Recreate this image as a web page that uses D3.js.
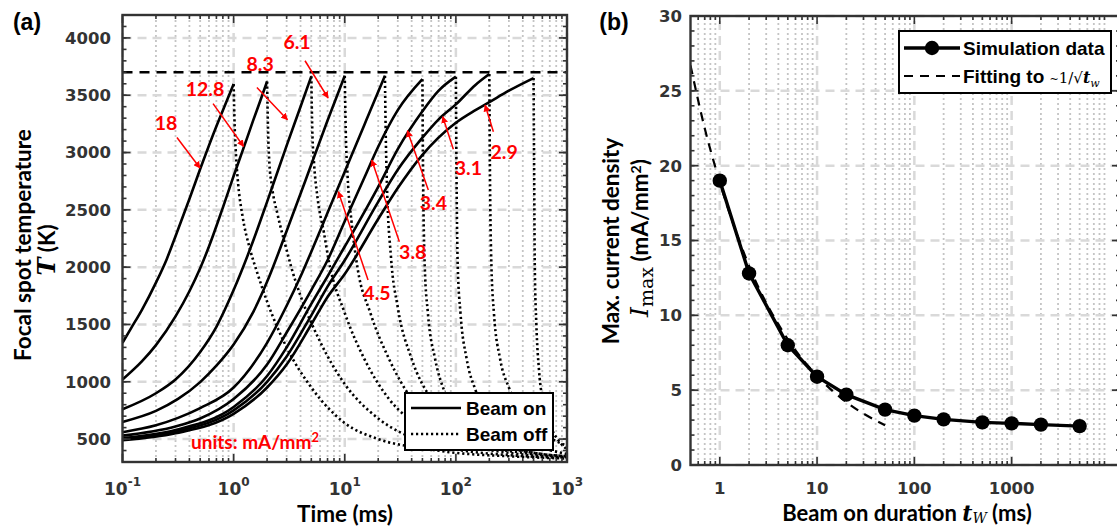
<!DOCTYPE html>
<html>
<head>
<meta charset="utf-8">
<script src="https://cdn.jsdelivr.net/npm/d3@7"></script>
<style>
  body { margin: 0; background: #fff; }
  text { font-family: "Liberation Sans", Arial, sans-serif; font-weight: bold; }
</style>
</head>
<body>
<div id="chart"></div>
<script>
// ---------- panel (a): temperature vs time, one curve per current density ----------
var densityLabels = ["18", "12.8", "8.3", "6.1", "4.5", "3.8", "3.4", "3.1", "2.9"];

// beam on: [time ms, T K]
var heat18  = [[0.1,1340],[0.12,1470],[0.15,1630],[0.2,1865],[0.25,2070],[0.3,2270],[0.4,2595],[0.5,2856],[0.7,3230],[0.85,3430],[1,3597]];
var heat128 = [[0.1,1020],[0.15,1180],[0.2,1320],[0.3,1570],[0.4,1790],[0.5,1990],[0.6,2180],[0.8,2520],[1,2795],[1.25,3060],[1.5,3280],[1.75,3460],[2,3620]];
var heat83  = [[0.1,760],[0.2,900],[0.3,1020],[0.5,1260],[0.7,1480],[1,1800],[1.5,2230],[2,2570],[3,3060],[4,3400],[5,3665]];
var heat61  = [[0.1,650],[0.2,746],[0.316,850],[0.5,997],[0.7,1140],[1,1325],[1.5,1608],[2,1872],[3,2315],[5,2895],[7,3280],[10,3670]];
var heat45  = [[0.1,560],[0.2,620],[0.316,685],[0.5,770],[1,950],[2,1340],[3,1663],[4,1918],[5,2135],[7,2474],[10,2833],[15,3241],[20,3530],[23,3670]];
var heat38  = [[0.1,530],[0.3,610],[0.5,680],[1,850],[2,1150],[3,1430],[5,1800],[7,2060],[10,2400],[15,2780],[20,3050],[30,3370],[50,3640]];
var heat34  = [[0.1,510],[0.3,580],[1,780],[2,1050],[3,1300],[5,1680],[7,1920],[10,2180],[20,2700],[30,3030],[50,3360],[70,3540],[100,3662]];
var heat31  = [[0.1,500],[0.3,565],[1,750],[2,1000],[3,1220],[5,1580],[7,1830],[10,2060],[20,2570],[30,2850],[50,3130],[70,3290],[100,3420],[150,3590],[200,3685]];
var heat29  = [[0.1,490],[0.3,550],[1,720],[2,950],[3,1150],[5,1500],[7,1740],[10,1940],[20,2420],[30,2690],[50,2980],[100,3260],[150,3370],[200,3440],[300,3540],[500,3650]];

// beam off (cooling): [time ms, T K]
var cool18  = [[1,3597],[1.02,3250],[1.05,2980],[1.1,2720],[1.2,2450],[1.4,2160],[1.62,1960],[2,1700],[3,1300],[5,950],[10,640],[20,500],[50,420],[100,380],[300,350],[1000,330]];
var cool128 = [[2,3620],[2.04,3200],[2.1,2900],[2.2,2720],[2.5,2450],[3,2150],[3.3,2000],[4,1750],[6,1350],[10,980],[20,680],[50,480],[100,410],[300,360],[1000,335]];
var cool83  = [[5,3665],[5.1,3200],[5.3,2900],[5.7,2600],[6.5,2300],[7.2,2050],[10,1600],[15,1200],[25,850],[50,600],[100,470],[300,380],[1000,340]];
var cool61  = [[10,3670],[10.2,3200],[10.6,2800],[11.5,2400],[13,2000],[17,1600],[25,1200],[40,850],[70,620],[150,460],[400,380],[1000,345]];
var cool45  = [[23,3670],[23.3,3250],[24,2700],[26,2100],[30,1650],[40,1200],[60,850],[100,620],[200,470],[500,380],[1000,350]];
var cool38  = [[50,3640],[50.5,3000],[52.5,2000],[56,1600],[65,1200],[80,900],[120,650],[200,500],[400,400],[1000,350]];
var cool34  = [[100,3662],[101,3000],[104,2000],[110,1600],[125,1200],[150,930],[200,720],[300,560],[500,450],[1000,370]];
var cool31  = [[200,3685],[202,3000],[209,2000],[220,1600],[250,1200],[300,950],[400,740],[600,560],[1000,440]];
var cool29  = [[500,3650],[505,3000],[513,2000],[530,1500],[560,1100],[620,800],[720,600],[850,480],[1000,410]];

var heatCurves = [heat18, heat128, heat83, heat61, heat45, heat38, heat34, heat31, heat29];
var coolCurves = [cool18, cool128, cool83, cool61, cool45, cool38, cool34, cool31, cool29];

var limitTemp = 3700;

// red labels: text position and arrow (tail -> head), all in [time, T]
var labelText  = [[0.246,3257],[0.553,3554],[1.73,3772],[3.72,3964],[19.5,1774],[40.9,2134],[62.8,2557],[129.6,2862],[271.6,3007]];
var arrowTail  = [[0.309,3131],[0.653,3427],[1.62,3567],[4.39,3801],[16.2,1887],[31.0,2221],[56.5,2673],[94.9,3028],[217.6,3181]];
var arrowHead  = [[0.498,2865],[1.23,3053],[3.05,3287],[7.08,3476],[8.76,2658],[17.5,2934],[36.6,3190],[76.2,3312],[183.2,3414]];

var xTicksA = [0.1, 1, 10, 100, 1000];
var xExpA   = ["-1", "0", "1", "2", "3"];
var yTicksA = [500, 1000, 1500, 2000, 2500, 3000, 3500, 4000];

// ---------- panel (b): max current density vs beam-on duration ----------
var durations = [1, 2, 5, 10, 20, 50, 100, 200, 500, 1000, 2000, 5000];
var maxDensity = [19.0, 12.8, 8.0, 5.9, 4.7, 3.7, 3.3, 3.05, 2.85, 2.78, 2.7, 2.6];
var fitDurations = [0.5, 0.7, 1, 2, 5, 10, 20, 50];
var fitDensity = [26.7, 22.5, 18.9, 13.3, 8.4, 5.95, 4.2, 2.65];

var xTicksB = [1, 10, 100, 1000];
var yTicksB = [0, 5, 10, 15, 20, 25, 30];

// ---------- setup ----------
var svg = d3.select("#chart")
  .append("svg")
    .attr("width", 1117)
    .attr("height", 529);

var xA = d3.scaleLog().domain([0.1, 1000]).range([122.5, 567]);
var yA = d3.scaleLinear().domain([300, 4200]).range([462, 15]);
var xB = d3.scaleLog().domain([0.5, 13000]).range([690.5, 1120]);
var yB = d3.scaleLinear().domain([0, 30]).range([465, 16]);

var axisColor = "#333";
var titleFont = "Lato, sans-serif";

// minor positions of a log axis (2..9 in each decade)
function logMinors(lo, hi) {
  var v = [];
  for (var e = -2; e < 5; e++) {
    for (var m = 2; m < 10; m++) {
      var t = m * Math.pow(10, e);
      if (t > lo * 1.001 && t < hi * 0.999) v.push(t);
    }
  }
  return v;
}

function drawGrid(g, x, y, xMajor, yMajor) {
  var x0 = x.range()[0], x1 = x.range()[1], y0 = y.range()[0], y1 = y.range()[1];
  g.selectAll(".gminor").data(logMinors(x.domain()[0], x.domain()[1])).enter().append("line")
    .attr("x1", function(d) { return x(d); }).attr("x2", function(d) { return x(d); })
    .attr("y1", y0).attr("y2", y1)
    .attr("stroke", "#c4c4c4").attr("stroke-width", 1.8).attr("stroke-dasharray", "2,3");
  g.selectAll(".gxmaj").data(xMajor).enter().append("line")
    .attr("x1", function(d) { return x(d); }).attr("x2", function(d) { return x(d); })
    .attr("y1", y0).attr("y2", y1)
    .attr("stroke", "#d9d9d9").attr("stroke-width", 2.5).attr("stroke-dasharray", "9,6");
  g.selectAll(".gymaj").data(yMajor).enter().append("line")
    .attr("x1", x0).attr("x2", x1)
    .attr("y1", function(d) { return y(d); }).attr("y2", function(d) { return y(d); })
    .attr("stroke", "#d9d9d9").attr("stroke-width", 2.5).attr("stroke-dasharray", "9,6");
}

function drawFrame(g, x, y, xMajor, yMajor, yMinorStep) {
  var x0 = x.range()[0], x1 = x.range()[1], y0 = y.range()[0], y1 = y.range()[1];
  var xMinor = logMinors(x.domain()[0], x.domain()[1]);
  var yMinor = d3.range(y.domain()[0], y.domain()[1] + 0.001, yMinorStep);
  var ticks = g.append("g").attr("stroke", axisColor).attr("stroke-width", 1.6);
  function vt(vals, len) {
    vals.forEach(function(v) {
      ticks.append("line").attr("x1", x(v)).attr("x2", x(v)).attr("y1", y0).attr("y2", y0 - len);
      ticks.append("line").attr("x1", x(v)).attr("x2", x(v)).attr("y1", y1).attr("y2", y1 + len);
    });
  }
  function ht(vals, len) {
    vals.forEach(function(v) {
      ticks.append("line").attr("y1", y(v)).attr("y2", y(v)).attr("x1", x0).attr("x2", x0 + len);
      ticks.append("line").attr("y1", y(v)).attr("y2", y(v)).attr("x1", x1).attr("x2", x1 - len);
    });
  }
  vt(xMajor, 8); vt(xMinor, 4);
  ht(yMajor, 8); ht(yMinor, 4);
  g.append("rect")
    .attr("x", x0).attr("y", y1)
    .attr("width", x1 - x0).attr("height", y0 - y1)
    .attr("fill", "none").attr("stroke", axisColor).attr("stroke-width", 2.4);
}

// ================= panel (a) =================
var gA = svg.append("g");
svg.append("clipPath").attr("id", "clipA").append("rect")
  .attr("x", 122.5).attr("y", 15).attr("width", 567 - 122.5).attr("height", 462 - 15);

drawGrid(gA, xA, yA, xTicksA, yTicksA);

var lineA = d3.line()
  .x(function(d) { return xA(d[0]); })
  .y(function(d) { return yA(d[1]); })
  .curve(d3.curveMonotoneX);

var curvesA = gA.append("g").attr("clip-path", "url(#clipA)");
curvesA.selectAll(".cool").data(coolCurves).enter().append("path")
  .attr("d", lineA)
  .attr("fill", "none").attr("stroke", "#000").attr("stroke-width", 2.6)
  .attr("stroke-dasharray", "2.2,2.8");
curvesA.selectAll(".heat").data(heatCurves).enter().append("path")
  .attr("d", lineA)
  .attr("fill", "none").attr("stroke", "#000").attr("stroke-width", 2.6);

// temperature limit
gA.append("line")
  .attr("x1", xA(0.1)).attr("x2", xA(1000))
  .attr("y1", yA(limitTemp)).attr("y2", yA(limitTemp))
  .attr("stroke", "#000").attr("stroke-width", 2.4).attr("stroke-dasharray", "10,7");

// red arrows and density labels
svg.append("defs").append("marker")
  .attr("id", "redhead").attr("viewBox", "0 0 10 10")
  .attr("refX", 9).attr("refY", 5)
  .attr("markerWidth", 7).attr("markerHeight", 7)
  .attr("markerUnits", "userSpaceOnUse")
  .attr("orient", "auto")
  .append("path").attr("d", "M0,0 L10,5 L0,10 Z").attr("fill", "#ff0000");

gA.selectAll(".arrow").data(arrowTail).enter().append("line")
  .attr("x1", function(d) { return xA(d[0]); })
  .attr("y1", function(d) { return yA(d[1]); })
  .attr("x2", function(d, i) { return xA(arrowHead[i][0]); })
  .attr("y2", function(d, i) { return yA(arrowHead[i][1]); })
  .attr("stroke", "#ff0000").attr("stroke-width", 1.5)
  .attr("marker-end", "url(#redhead)");

gA.selectAll(".lbl").data(densityLabels).enter().append("text")
  .attr("x", function(d, i) { return xA(labelText[i][0]); })
  .attr("y", function(d, i) { return yA(labelText[i][1]); })
  .attr("dy", "0.36em")
  .attr("text-anchor", "middle")
  .style("font-family", titleFont)
  .style("font-size", "19.5px")
  .attr("fill", "#ff0000")
  .text(function(d) { return d; });

var units = gA.append("text")
  .attr("x", 255).attr("y", 449)
  .attr("text-anchor", "middle")
  .style("font-family", titleFont).style("font-size", "19px")
  .attr("fill", "#ff0000");
units.append("tspan").text("units: mA/mm");
units.append("tspan").attr("dy", -7).style("font-size", "13px").text("2");

// legend (a)
var legA = gA.append("g");
legA.append("rect").attr("x", 405).attr("y", 393).attr("width", 148).attr("height", 57)
  .attr("fill", "#fff").attr("stroke", "#000").attr("stroke-width", 2);
legA.append("line").attr("x1", 411).attr("x2", 461).attr("y1", 408).attr("y2", 408)
  .attr("stroke", "#000").attr("stroke-width", 2.6);
legA.append("line").attr("x1", 411).attr("x2", 461).attr("y1", 434).attr("y2", 434)
  .attr("stroke", "#000").attr("stroke-width", 2.6).attr("stroke-dasharray", "2.2,2.8");
legA.append("text").attr("x", 466).attr("y", 415).style("font-size", "19px").text("Beam on");
legA.append("text").attr("x", 466).attr("y", 441).style("font-size", "19px").text("Beam off");

drawFrame(gA, xA, yA, xTicksA, yTicksA, 100);

// tick labels (a)
gA.selectAll(".ylab").data(yTicksA).enter().append("text")
  .attr("x", 111).attr("y", function(d) { return yA(d); })
  .attr("dy", "0.36em").attr("text-anchor", "end")
  .style("font-family", "'DejaVu Sans', sans-serif").style("font-size", "16.5px")
  .attr("fill", axisColor)
  .text(function(d) { return d; });

gA.selectAll(".xlab").data(xTicksA).enter().append("text")
  .attr("x", function(d) { return xA(d); }).attr("y", 495)
  .attr("text-anchor", "middle")
  .style("font-family", "'DejaVu Sans', sans-serif").style("font-size", "17px")
  .attr("fill", axisColor)
  .each(function(d, i) {
    var t = d3.select(this);
    t.append("tspan").text("10");
    t.append("tspan").attr("dy", -9).style("font-size", "12px").text(xExpA[i]);
  });

// axis titles (a)
svg.append("text").attr("x", 345).attr("y", 522).attr("text-anchor", "middle")
  .style("font-family", titleFont).style("font-size", "22.5px").text("Time (ms)");
svg.append("text").attr("transform", "translate(31,245) rotate(-90)").attr("text-anchor", "middle")
  .style("font-family", titleFont).style("font-size", "22.5px").text("Focal spot temperature");
var tLab = svg.append("text").attr("transform", "translate(55,250) rotate(-90)").attr("text-anchor", "middle")
  .style("font-family", titleFont).style("font-size", "22.5px");
tLab.append("tspan").style("font-family", "'DejaVu Serif', serif").style("font-style", "italic").style("font-size", "24px").text("T");
tLab.append("tspan").text(" (K)");

svg.append("text").attr("x", 27).attr("y", 30).attr("text-anchor", "middle")
  .style("font-size", "23px").text("(a)");

// ================= panel (b) =================
var gB = svg.append("g");
svg.append("clipPath").attr("id", "clipB").append("rect")
  .attr("x", 690.5).attr("y", 16).attr("width", 1120 - 690.5).attr("height", 465 - 16);

drawGrid(gB, xB, yB, xTicksB, yTicksB);

var plotB = gB.append("g").attr("clip-path", "url(#clipB)");

var fitLine = d3.line()
  .x(function(d, i) { return xB(fitDurations[i]); })
  .y(function(d) { return yB(d); })
  .curve(d3.curveMonotoneX);
plotB.append("path").attr("d", fitLine(fitDensity))
  .attr("fill", "none").attr("stroke", "#000").attr("stroke-width", 2.2)
  .attr("stroke-dasharray", "9,7");

var simLine = d3.line()
  .x(function(d, i) { return xB(durations[i]); })
  .y(function(d) { return yB(d); });
plotB.append("path").attr("d", simLine(maxDensity))
  .attr("fill", "none").attr("stroke", "#000").attr("stroke-width", 3.4);
plotB.selectAll(".pt").data(maxDensity).enter().append("circle")
  .attr("cx", function(d, i) { return xB(durations[i]); })
  .attr("cy", function(d) { return yB(d); })
  .attr("r", 7.2).attr("fill", "#000");

// legend (b)
var legB = gB.append("g");
legB.append("rect").attr("x", 899).attr("y", 31).attr("width", 212).attr("height", 62)
  .attr("fill", "#fff").attr("stroke", "#000").attr("stroke-width", 2);
legB.append("line").attr("x1", 904).attr("x2", 960).attr("y1", 48).attr("y2", 48)
  .attr("stroke", "#000").attr("stroke-width", 3.4);
legB.append("circle").attr("cx", 932).attr("cy", 48).attr("r", 7.2).attr("fill", "#000");
legB.append("line").attr("x1", 904).attr("x2", 960).attr("y1", 76).attr("y2", 76)
  .attr("stroke", "#000").attr("stroke-width", 2.2).attr("stroke-dasharray", "9,7");
legB.append("text").attr("x", 963).attr("y", 55).style("font-size", "19px").text("Simulation data");
var fitTxt = legB.append("text").attr("x", 963).attr("y", 83).style("font-size", "19px");
fitTxt.append("tspan").text("Fitting to ");
fitTxt.append("tspan").style("font-family", "'DejaVu Serif', serif").style("font-weight", "normal")
  .style("font-size", "11px").text("~");
fitTxt.append("tspan").style("font-family", "'DejaVu Serif', serif").style("font-weight", "normal")
  .style("font-size", "15px").text("1/√");
fitTxt.append("tspan").style("font-family", "'DejaVu Serif', serif").style("font-style", "italic")
  .style("font-size", "16px").text("t");
fitTxt.append("tspan").attr("dy", 4).style("font-family", "'DejaVu Serif', serif").style("font-style", "italic")
  .style("font-weight", "normal").style("font-size", "11px").text("w");

drawFrame(gB, xB, yB, xTicksB, yTicksB, 1);

gB.selectAll(".ylab").data(yTicksB).enter().append("text")
  .attr("x", 682).attr("y", function(d) { return yB(d); })
  .attr("dy", "0.36em").attr("text-anchor", "end")
  .style("font-family", "'DejaVu Sans', sans-serif").style("font-size", "16.5px")
  .attr("fill", axisColor)
  .text(function(d) { return d; });
gB.selectAll(".xlab").data(xTicksB).enter().append("text")
  .attr("x", function(d) { return xB(d); }).attr("y", 494)
  .attr("text-anchor", "middle")
  .style("font-family", "'DejaVu Sans', sans-serif").style("font-size", "16.5px")
  .attr("fill", axisColor)
  .text(function(d) { return d; });

// axis titles (b)
var bx = svg.append("text").attr("x", 907).attr("y", 521).attr("text-anchor", "middle")
  .style("font-family", titleFont).style("font-size", "22px");
bx.append("tspan").text("Beam on duration ");
bx.append("tspan").style("font-family", "'DejaVu Serif', serif").style("font-style", "italic").style("font-size", "22px").text("t");
bx.append("tspan").attr("dy", 2).style("font-family", "'DejaVu Serif', serif").style("font-style", "italic")
  .style("font-weight", "normal").style("font-size", "14px").text("W");
bx.append("tspan").attr("dy", -2).text(" (ms)");

svg.append("text").attr("transform", "translate(619,241) rotate(-90)").attr("text-anchor", "middle")
  .style("font-family", titleFont).style("font-size", "22.5px").text("Max. current density");
var iLab = svg.append("text").attr("transform", "translate(648,238) rotate(-90)").attr("text-anchor", "middle")
  .style("font-family", titleFont).style("font-size", "22.5px");
iLab.append("tspan").style("font-family", "'DejaVu Serif', serif").style("font-style", "italic")
  .style("font-weight", "normal").style("font-size", "25px").text("I");
iLab.append("tspan").attr("dy", 5).style("font-family", "'DejaVu Serif', serif")
  .style("font-weight", "normal").style("font-size", "19px").text("max");
iLab.append("tspan").attr("dy", -5).text(" (mA/mm");
iLab.append("tspan").attr("dy", -7).style("font-size", "14px").text("2");
iLab.append("tspan").attr("dy", 7).text(")");

svg.append("text").attr("x", 614).attr("y", 30).attr("text-anchor", "middle")
  .style("font-size", "23px").text("(b)");
</script>
</body>
</html>
